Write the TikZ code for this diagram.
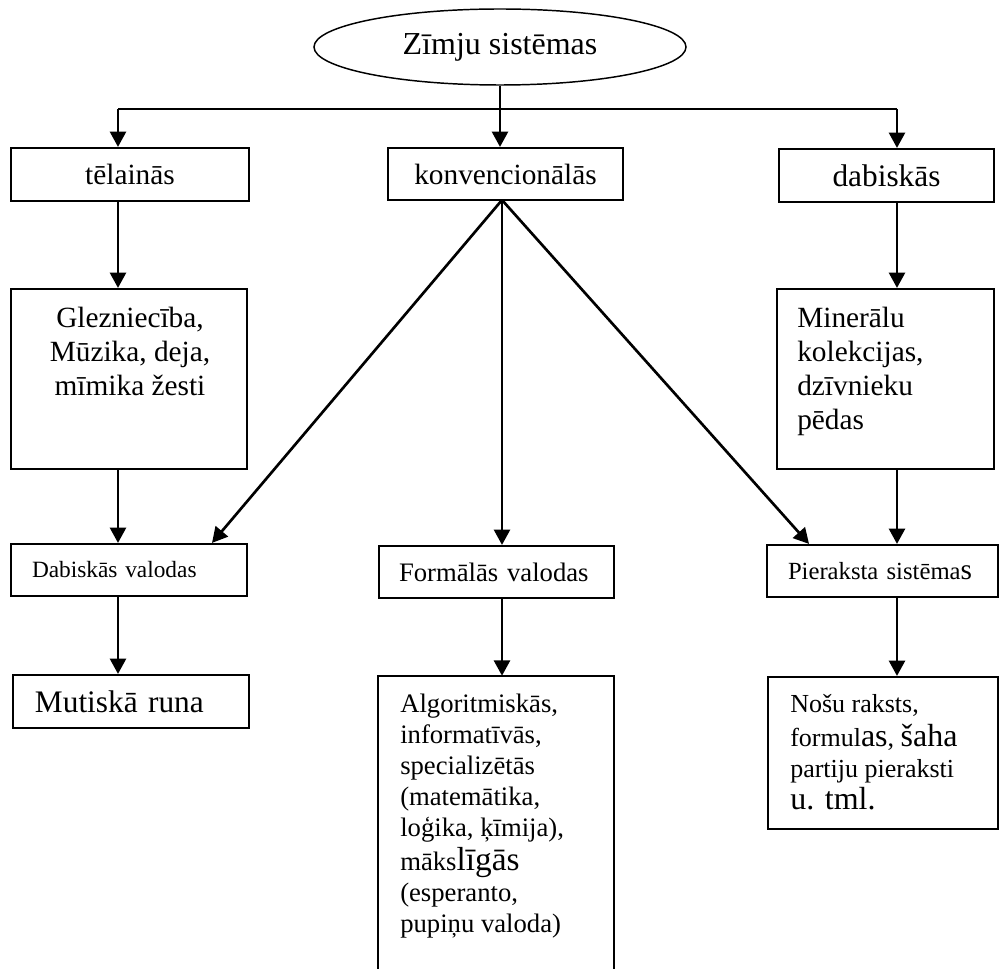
\documentclass[tikz,border=0pt]{standalone}
\usepackage{fontspec}
\setmainfont{Liberation Serif}
\usetikzlibrary{arrows.meta,shapes.geometric}
\begin{document}
\begin{tikzpicture}[x=0.75pt,y=-0.75pt,
  box/.style={draw,line width=1.6pt,inner sep=0pt},
  arr/.style={line width=2pt,-{Triangle[length=11.5pt,width=12pt]}},
  ln/.style={line width=2pt},
  txt/.style={inner sep=0pt}]
\useasboundingbox (0,0) rectangle (1000,969);

% top ellipse
\node[ellipse,draw,line width=1.1pt,minimum width=279pt,minimum height=57pt,inner sep=0pt,
      font=\fontsize{24}{28}\selectfont] (E) at (500,47) {Zīmju sistēmas};

% row 1
\node[box,minimum width=178.5pt,minimum height=39.75pt,font=\fontsize{22}{26}\selectfont] (A1) at (130,174.5) {tēlainās};
\node[box,minimum width=176.25pt,minimum height=39pt,font=\fontsize{22}{26}\selectfont] (A2) at (505.5,174) {konvencionālās};
\node[box,minimum width=161.25pt,minimum height=39.75pt,font=\fontsize{23.5}{27}\selectfont] (A3) at (886.5,175.5) {dabiskās};

% row 2
\node[box,minimum width=177pt,minimum height=135pt] (B1) at (129,379) {};
\node[txt,anchor=north,align=center,font=\fontsize{22}{25.5}\selectfont] (B1t) at (130,307) {Glezniecība,\\Mūzika, deja,\\mīmika žesti};
\node[box,minimum width=162.75pt,minimum height=135pt] (B3) at (885.5,379) {};
\node[txt,anchor=north west,align=left,font=\fontsize{22}{25.5}\selectfont] (B3t) at (797,307) {Minerālu\\kolekcijas,\\dzīvnieku\\pēdas};

% row 3
\node[box,minimum width=177pt,minimum height=39pt,inner xsep=15.75pt,text width=145.5pt,align=left,
      font=\fontsize{17.5}{21}\selectfont] (C1) at (129,570) {\mbox{Dabiskās valodas}};
\node[box,minimum width=176.25pt,minimum height=39pt,inner xsep=15pt,text width=146.25pt,align=left,
      font=\fontsize{20}{24}\selectfont] (C2) at (496.5,572) {\mbox{Formālās valodas}};
\node[box,minimum width=173.25pt,minimum height=39pt,inner xsep=15.75pt,text width=141.75pt,align=left,
      font=\fontsize{18.5}{22}\selectfont] (C3) at (882.5,571) {\mbox{Pieraksta sistēma{\fontsize{22}{24}\selectfont s}}};

% row 4
\node[box,minimum width=177pt,minimum height=39.75pt,inner xsep=16.5pt,text width=144pt,align=left,
      font=\fontsize{23.5}{27}\selectfont] (D1) at (131,701.5) {\mbox{Mutiskā runa}};
\node[minimum width=177pt,minimum height=224.25pt,inner sep=0pt] (D2) at (496,825.5) {};
\draw[line width=1.6pt] (D2.south west) |- (D2.north east) -- (D2.south east);
\node[txt,anchor=north west,align=left,font=\fontsize{20}{23.25}\selectfont] (D2t) at (400,694)
  {Algoritmiskās,\\informatīvās,\\specializētās\\(matemātika,\\loģika, ķīmija),\\[2pt]māks{\fontsize{25}{28}\selectfont līgās}\\(esperanto,\\pupiņu valoda)};
\node[box,minimum width=172.5pt,minimum height=114pt] (D3) at (883,753) {};
\node[txt,anchor=north west,align=left,font=\fontsize{19.5}{23.5}\selectfont] (D3t) at (790,694)
  {Nošu raksts,\\[2pt]formul{\fontsize{24}{26}\selectfont as}, {\fontsize{24}{26}\selectfont šaha}\\partiju pieraksti\\{\fontsize{24}{26}\selectfont u. tml.}};

% connectors
\coordinate (jL) at (118,109);
\coordinate (jR) at (897,109);
\coordinate (kb) at (502,200);
\draw[ln] (jL) -- (jR);
\draw[arr] (E.south) -- (E.south |- A2.north);
\draw[arr] (jL) -- (jL |- A1.north);
\draw[arr] (jR) -- (jR |- A3.north);
\draw[arr] (jL |- A1.south) -- (jL |- B1.north);
\draw[arr] (jR |- A3.south) -- (jR |- B3.north);
\draw[arr] (kb) -- ([xshift=62.25pt]C1.north);
\draw[arr] (kb) -- (kb |- C2.north);
\draw[arr] (kb) -- ([xshift=-55.1pt]C3.north);
\draw[arr] (jL |- B1.south) -- (jL |- C1.north);
\draw[arr] (jR |- B3.south) -- (jR |- C3.north);
\draw[arr] (jL |- C1.south) -- (jL |- D1.north);
\draw[arr] (kb |- C2.south) -- (kb |- D2.north);
\draw[arr] (jR |- C3.south) -- (jR |- D3.north);
\end{tikzpicture}
\end{document}
